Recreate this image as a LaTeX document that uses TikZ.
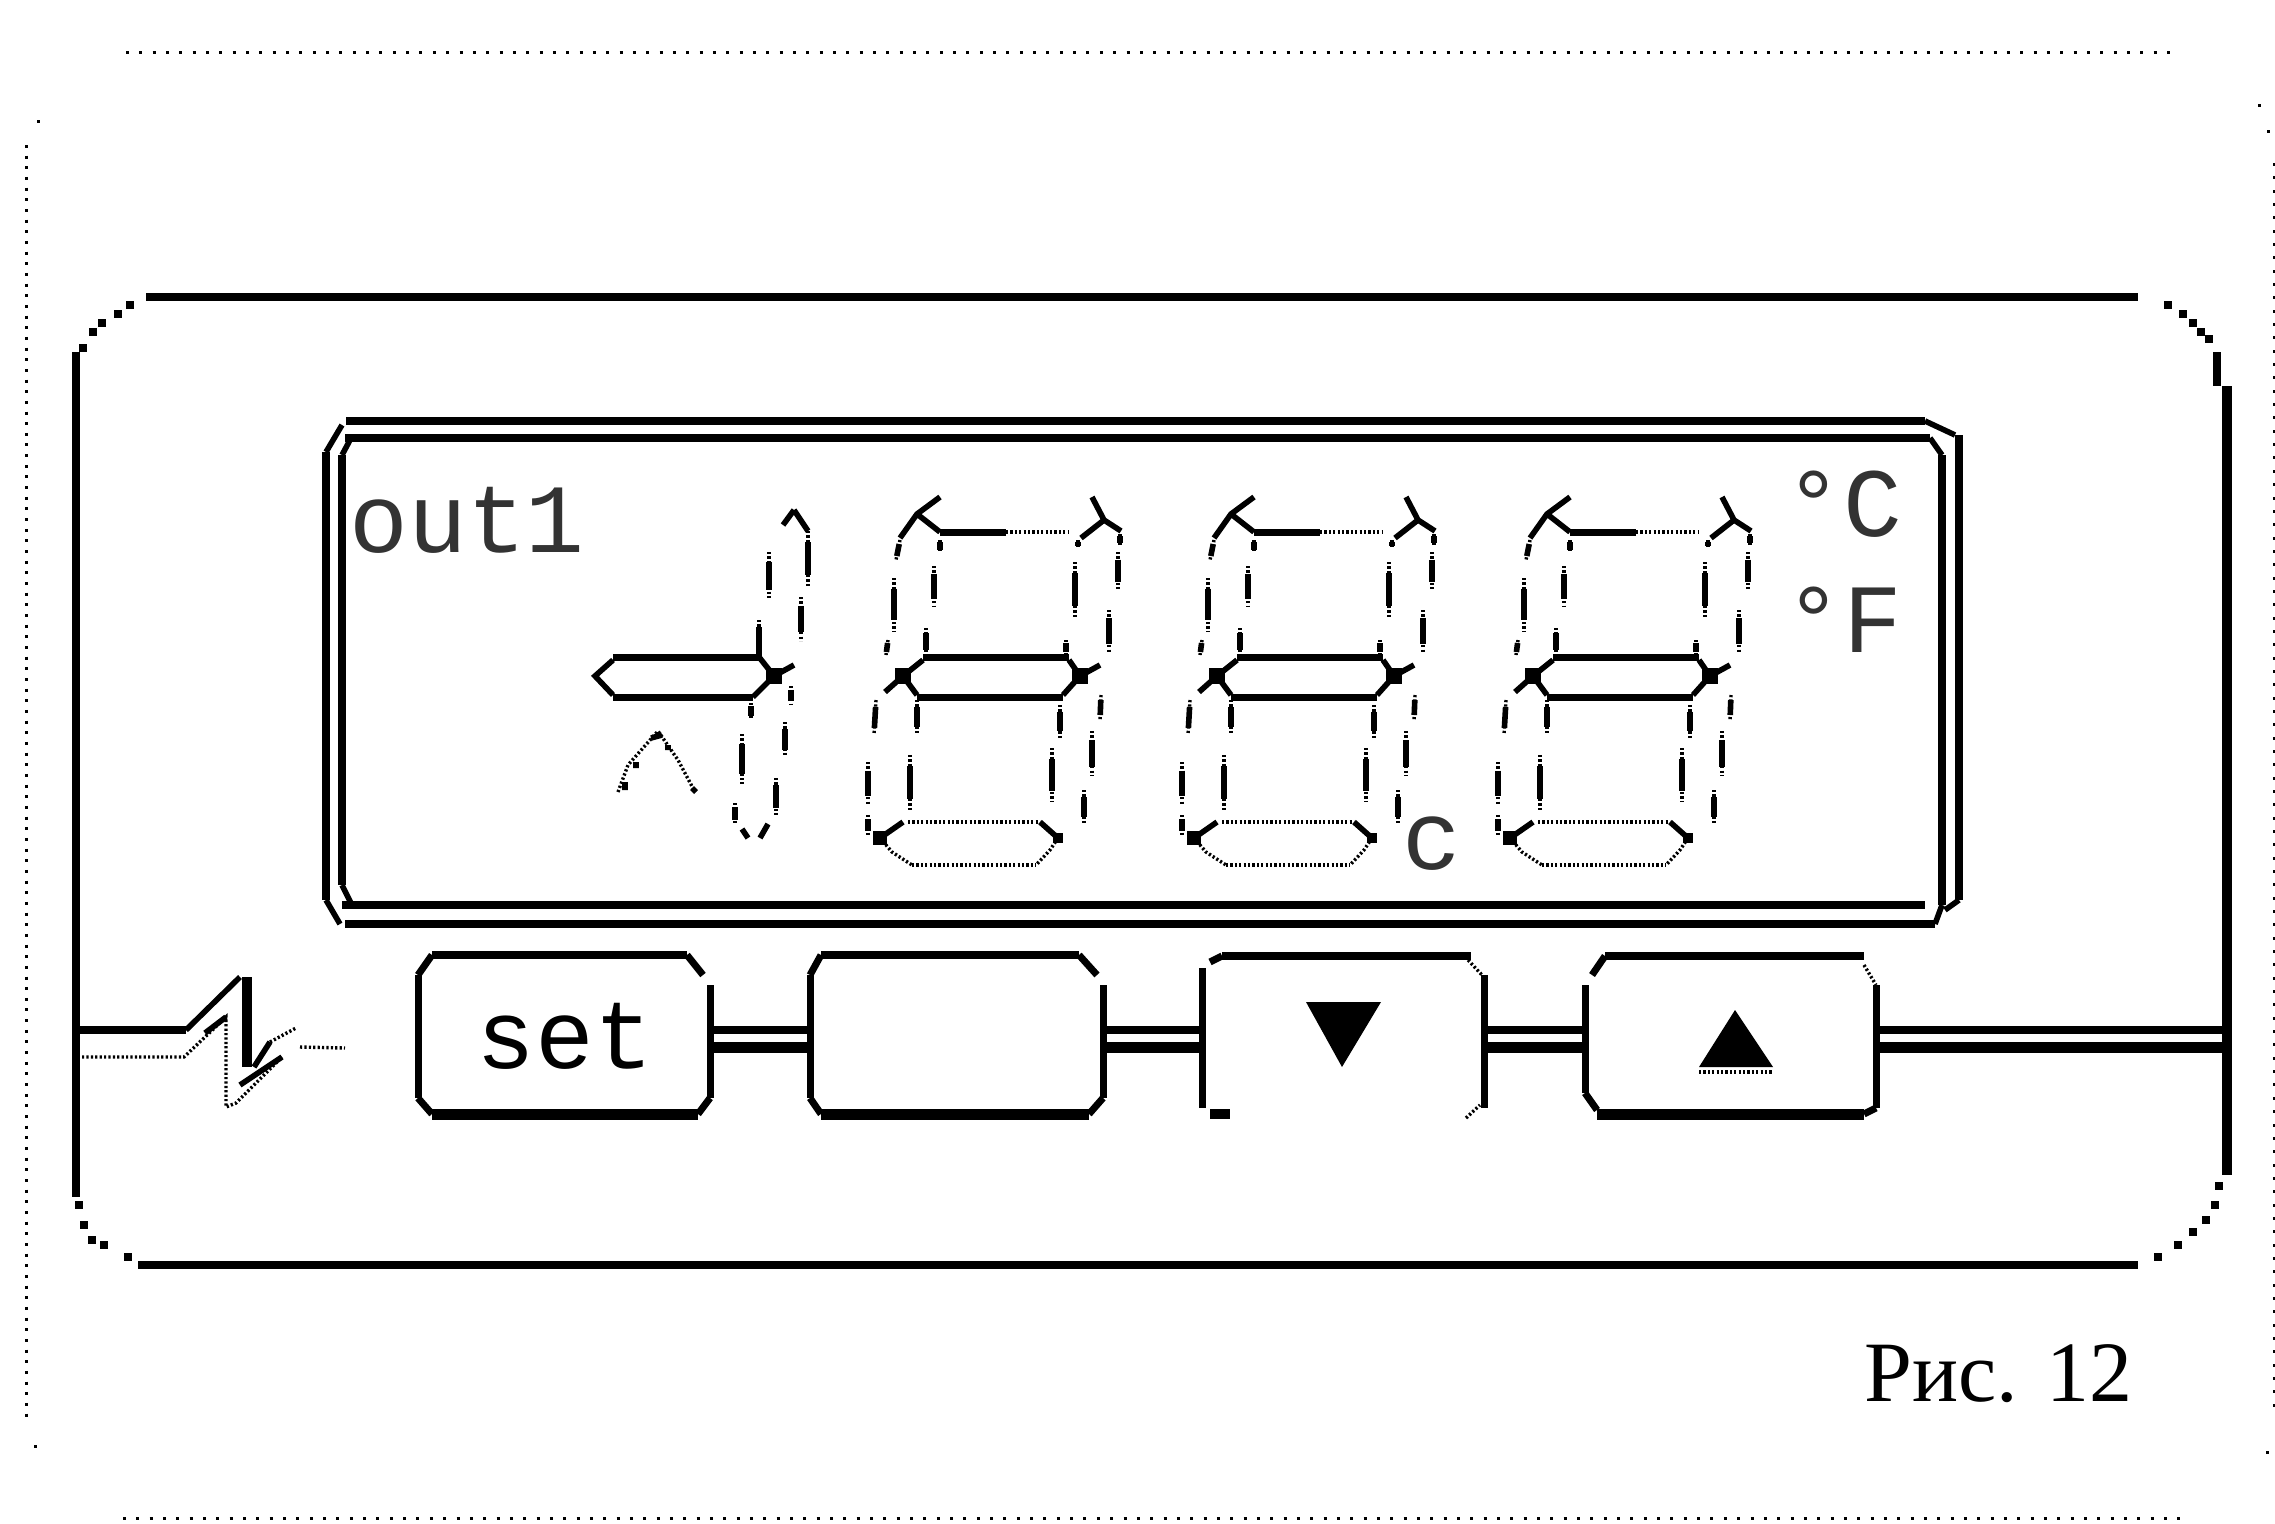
\documentclass[tikz,border=0pt]{standalone}
\usepackage{fontspec}
\setmainfont{Liberation Serif}
\newfontfamily\monof{Liberation Mono}
\usetikzlibrary{calc}
\tikzset{
  x=0.5pt,y=-0.5pt,
  dotline/.style={line width=1.5pt,dash pattern=on 1.5pt off 5.17pt},
  dotlineV/.style={line width=1.5pt,dash pattern=on 1.5pt off 3.83pt},
  frameline/.style={line width=4pt},
  rimline/.style={line width=4pt},
  thk/.style={line width=3.5pt},
  vt/.style={line width=2.8pt},
  dit/.style={line width=1.7pt,dash pattern=on 1.1pt off 1.1pt},
  btntop/.style={line width=4pt},
  btnbot/.style={line width=5.5pt},
  btnside/.style={line width=3.5pt},
  btnnode/.style={inner sep=0pt,minimum width=146pt,minimum height=79pt},
  conU/.style={line width=4pt},
  conL/.style={line width=5.5pt},
  lcd/.style={inner sep=0pt,anchor=base west,font=\monof\fontsize{49}{49}\selectfont,text=black!80},
}
\newcommand{\blk}[3]{\fill (#1-#3,#2-#3) rectangle (#1+#3,#2+#3);}
\newcommand{\digitshape}{%
  \draw[thk] (940,532)--(1006,532) (923,657)--(1069,657) (917,697)--(1063,697);
  \draw[dit] (1006,532)--(1069,532) (908,822)--(1040,822) (912,865)--(1036,865);
  \draw[vt] (940,497)--(917,514)--(900,538) (917,514)--(940,532)
            (1092,497)--(1104,520)--(1121,531) (1104,520)--(1081,538);
  \foreach \xa/\ya/\xb/\yb in {%
    900/540/896/560, 894/578/894/631, 888/640/886/655,
    940/540/940/552, 934/566/934/607, 926/628/926/655,
    1078/540/1078/548, 1075/562/1075/617, 1066/640/1066/655,
    1120/534/1120/545, 1118/552/1118/590, 1109/610/1109/652,
    876/700/874/735, 868/762/868/805, 868/815/868/835,
    917/700/917/734, 910/755/910/810,
    1060/705/1060/738, 1052/748/1052/802,
    1101/695/1100/720, 1092/731/1092/776, 1084/790/1084/824}{%
    \draw[dit] (\xa,\ya)--(\xb,\yb);
    \draw[vt] ($(\xa,\ya)!.2!(\xb,\yb)$)--($(\xa,\ya)!.8!(\xb,\yb)$);
  }
  \draw[vt] (923,660)--(903,676)--(917,695) (885,692)--(903,676)
            (1069,660)--(1080,676)--(1063,695) (1080,676)--(1100,665)
            (903,822)--(880,838) (1040,822)--(1058,838);
  \draw[dit] (880,838)--(892,852)--(912,865) (1058,838)--(1050,850)--(1036,865);
  \blk{903}{676}{8}\blk{1080}{676}{8}\blk{880}{838}{7}\blk{1058}{838}{5}
}
\begin{document}
\begin{tikzpicture}
\useasboundingbox (0,0) rectangle (2275,1523);
% dotted page edges
\draw[dotline] (126,52)--(2170,52);
\draw[dotline] (123,1518)--(2182,1518);
\draw[dotlineV] (26,145)--(26,1418);
\draw[dotline] (2274,163)--(2274,1410);
\foreach \dx/\dy in {38/121,35/1446,2259/105,2268/131,2267/1452}{\blk{\dx}{\dy}{1.5}}
% outer rim
\draw[frameline] (146,297)--(2138,297) (138,1265)--(2138,1265)
  (76,352)--(76,1197);
\draw[frameline] (2217,352)--(2217,386);
\draw[line width=5pt] (2227,386)--(2227,1175);
\foreach \dx/\dy in {83/348,93/332,102/323,118/314,130/305,
   2168/305,2183/314,2193/323,2201/332,2209/339,
   79/1205,84/1225,92/1240,104/1245,128/1257,
   2158/1257,2178/1245,2193/1232,2206/1220,2215/1205,2219/1186}{\blk{\dx}{\dy}{4}}
% display frame
\draw[rimline] (346,421)--(1925,421) (345,438)--(1930,438)
  (342,905)--(1925,905) (345,924)--(1935,924);
\draw[rimline] (326,452)--(326,900) (342,455)--(342,885)
  (1942,455)--(1942,905) (1959,435)--(1959,900);
\draw[vt] (326,452)--(342,425) (342,455)--(350,440) (342,885)--(352,905)
  (326,900)--(340,924) (1925,421)--(1955,435) (1930,438)--(1942,455)
  (1942,905)--(1935,924) (1959,900)--(1945,910);
% sign and leading 1
\draw[thk] (613,657)--(759,657) (613,697)--(753,697);
\draw[vt] (794,510)--(783,525) (794,510)--(808,531) (613,660)--(595,676)--(613,695)
  (759,640)--(759,660) (759,657)--(774,676)--(753,697) (774,676)--(794,665);
\foreach \xa/\ya/\xb/\yb in {808/531/808/586, 769/552/769/600, 801/597/801/641,
   759/620/759/655, 791/686/791/705, 785/722/785/757, 776/778/776/815,
   751/703/751/719, 742/734/742/784, 735/803/735/824}{%
  \draw[dit] (\xa,\ya)--(\xb,\yb);
  \draw[vt] ($(\xa,\ya)!.2!(\xb,\yb)$)--($(\xa,\ya)!.8!(\xb,\yb)$);
}
\draw[vt] (768,824)--(760,838) (742,829)--(748,838);
\blk{774}{676}{8}
% three digits
\begin{scope}\digitshape\end{scope}
\begin{scope}[shift={(314,0)}]\digitshape\end{scope}
\begin{scope}[shift={(630,0)}]\digitshape\end{scope}
% chevron beside the sign
\draw[dit] (618,792)--(628,765)--(658,731)--(678,760)--(695,792);
\draw[vt] (625,782)--(625,790) (636,762)--(636,768) (651,738)--(662,735) (668,745)--(668,750) (692,788)--(696,792);
% texts
\node[lcd] (outtext) at (349,552) {out1};
\node[lcd] (dectext) at (1402,869) {c};
\node[lcd] (degc) at (1784,536) {°C};
\node[lcd] (degf) at (1784,652) {°F};
\node[inner sep=0pt,anchor=base west,font=\fontsize{43}{43}\selectfont] (caption) at (1864,1401) {Рис. 12};
% lightning
\draw[conU] (76,1030)--(186,1030);
\draw[vt] (186,1030)--(240,977);
\draw[line width=5pt] (247,977)--(247,1067);
\draw[vt] (254,1067)--(270,1042) (226,1017)--(205,1033);
\draw[dit] (82,1057)--(184,1057)--(226,1017)--(226,1107)--(236,1103)--(282,1057) (270,1042)--(296,1028) (300,1047)--(345,1048);
\draw[vt] (240,1085)--(282,1057);
% buttons
\node[btnnode] (bset) at (564,1034) {};
\node[btnnode] (bblank) at (956,1034) {};
\node[btnnode,minimum width=141pt] (bdown) at (1343,1034) {};
\node[btnnode,minimum width=145pt] (bup) at (1730,1034) {};
\node[lcd,text=black] (settext) at (476,1068) {set};
% button set
\draw[btntop] (432,955)--(687,955);
\draw[btnbot] (432,1114)--(698,1114);
\draw[btnside] (418,975)--(418,1098) (710,985)--(710,1098);
\draw[btnside] (418,975)--(432,955) (687,955)--(703,975) (418,1098)--(432,1114) (710,1098)--(698,1114);
% blank button
\draw[btntop] (821,955)--(1079,955);
\draw[btnbot] (821,1114)--(1089,1114);
\draw[btnside] (810,975)--(810,1098) (1103,985)--(1103,1098);
\draw[btnside] (810,975)--(821,955) (1079,955)--(1097,975) (810,1098)--(821,1114) (1103,1098)--(1089,1114);
% down button
\draw[btntop] (1222,956)--(1471,956);
\draw[line width=3.5pt] (1202,968)--(1202,1108) (1484,975)--(1484,1108);
\draw[btnside] (1210,962)--(1222,956);
\draw[line width=5pt] (1210,1114)--(1230,1114);
\draw[dit] (1468,960)--(1482,975) (1466,1118)--(1480,1105);
\fill (1306,1002)--(1381,1002)--(1342,1067)--cycle;
% up button
\draw[btntop] (1605,956)--(1864,956);
\draw[btnbot] (1597,1114)--(1864,1114);
\draw[btnside] (1585,985)--(1585,1093) (1876,985)--(1876,1108);
\draw[btnside] (1605,956)--(1592,975) (1585,1093)--(1597,1110) (1876,1108)--(1864,1114);
\draw[dit] (1864,965)--(1876,985);
\fill (1735,1010)--(1773,1067)--(1699,1067)--cycle;
\draw[dit] (1699,1072)--(1773,1072);
% connectors
\foreach \l/\r in {bset/bblank,bblank/bdown,bdown/bup}{
  \draw[conU] (\l.east |- 0,1030)--(\r.west |- 0,1030);
  \draw[conL] (\l.east |- 0,1047)--(\r.west |- 0,1047);
}
\coordinate (rimright) at (2227,1030);
\draw[conU] (bup.east |- 0,1030)--(rimright);
\draw[conL] (bup.east |- 0,1047)--(rimright |- 0,1047);
\end{tikzpicture}
\end{document}
